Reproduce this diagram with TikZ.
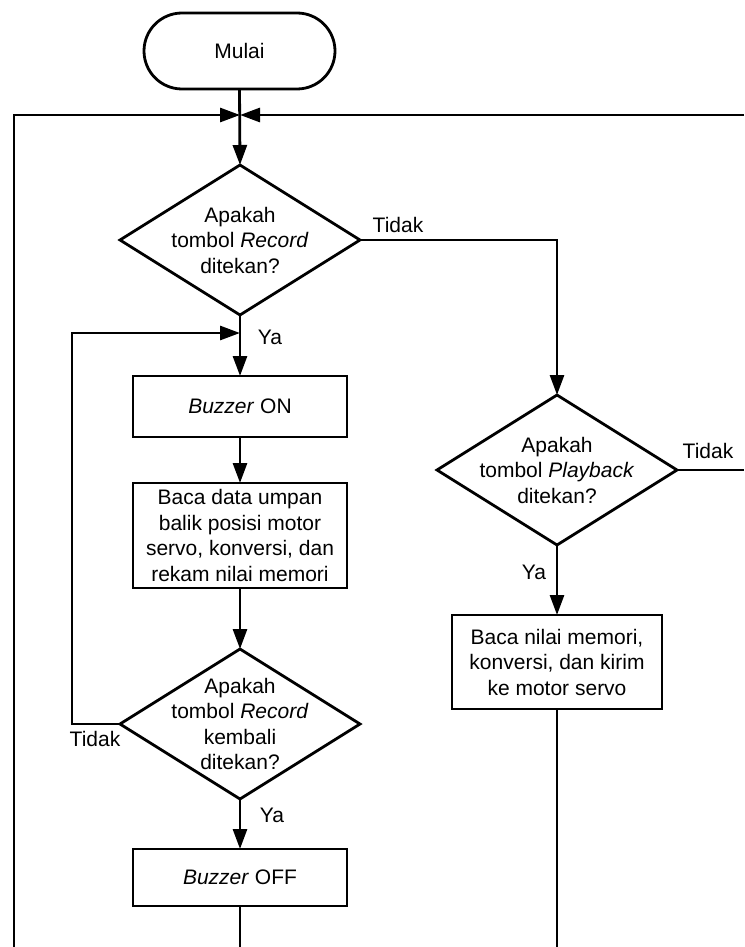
\documentclass[tikz,border=0pt]{standalone}
\usepackage{fontspec}
\setmainfont{Liberation Sans}
\usetikzlibrary{arrows.meta,shapes.geometric}
\begin{document}
\begin{tikzpicture}[x=1pt,y=-1pt,
  every node/.style={font=\fontsize{21}{25.5}\selectfont},
  ln/.style={line width=2.8pt},
  arr/.style={ln,-{Triangle[length=20pt,width=14pt]}},
  term/.style={draw,line width=2.8pt,rounded corners=38pt,minimum width=191pt,minimum height=76pt,inner sep=0pt,outer sep=0pt},
  procbox/.style={draw,line width=2.8pt,minimum width=214pt,inner sep=0pt,outer sep=0pt,align=center},
  dia/.style={draw,diamond,line width=2.8pt,minimum width=240pt,minimum height=150pt,inner sep=0pt,outer sep=0pt},
  lbl/.style={inner sep=0pt}]
\useasboundingbox (0,0) rectangle (744,947);

% nodes
\node[term] (mulai) at (239.5,51) {Mulai};
\coordinate (J) at (240,115);
\node[dia] (d1) at (240,240) {};
\node[align=center] at (d1) {Apakah\\tombol \textit{Record}\\ditekan?};
\coordinate (K) at (240,333);
\node[procbox,minimum height=61pt] (on) at (240,406.5) {\textit{Buzzer} ON};
\node[procbox,minimum height=105pt] (baca) at (240,535.5) {Baca data umpan\\balik posisi motor\\servo, konversi, dan\\rekam nilai memori};
\node[dia] (d3) at (240,724) {};
\node[align=center] at (d3) {Apakah\\tombol \textit{Record}\\kembali\\ditekan?};
\node[procbox,minimum height=57pt] (off) at (240,877.5) {\textit{Buzzer} OFF};

\node[dia] (d2) at (557,470) {};
\node[align=center] at (d2) {Apakah\\tombol \textit{Playback}\\ditekan?};
\node[procbox,minimum width=210pt,minimum height=94pt] (pb) at (557,662) {Baca nilai memori,\\konversi, dan kirim\\ke motor servo};

% free ends
\coordinate (LB) at (14,947);
\coordinate (RE) at (744,115);
\coordinate (OB) at (240,947);
\coordinate (PB) at (557,947);
\coordinate (D2E) at (744,470);

% connectors
\draw[arr] (mulai.south) -- (d1.north);
\draw[arr] (LB) |- (J);
\draw[arr] (RE) -- (J);
\draw[arr] (d1.east) -| (d2.north);
\draw[arr] (d1.south) -- (on.north);
\draw[arr] (on.south) -- (baca.north);
\draw[arr] (baca.south) -- (d3.north);
\draw[arr] (d3.west) -- ++(-48,0) |- (K);
\draw[arr] (d3.south) -- (off.north);
\draw[ln] (off.south) -- (OB);
\draw[arr] (d2.south) -- (pb.north);
\draw[ln] (d2.east) -- (D2E);
\draw[ln] (pb.south) -- (PB);

% labels
\node[lbl] at (398,225) {Tidak};
\node[lbl] at (270,337) {Ya};
\node[lbl] at (708,451) {Tidak};
\node[lbl] at (534,572) {Ya};
\node[lbl] at (95,739) {Tidak};
\node[lbl] at (272,815) {Ya};
\end{tikzpicture}
\end{document}
